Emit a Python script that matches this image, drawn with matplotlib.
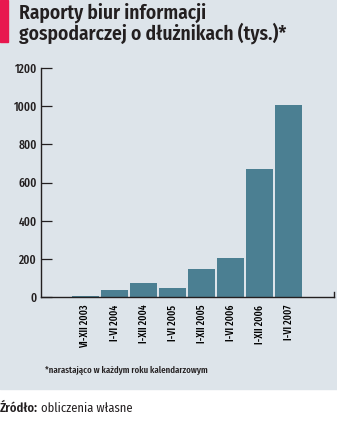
import matplotlib.pyplot as plt
from matplotlib.patches import Rectangle

# Reports of business information bureaus about debtors (thousands)
periods = ['VI-XII 2003', 'I-VI 2004', 'I-XII 2004', 'I-VI 2005',
           'I-XII 2005', 'I-VI 2006', 'I-XII 2006', 'I-VI 2007']
reports = [7, 38, 75, 49, 148, 206, 672, 1006]
yticks = [0, 200, 400, 600, 800, 1000, 1200]

bg = '#dde4ea'
bar_color = '#4b7f92'
ink = '#231f20'
title_font = ['Fira Sans Condensed', 'DejaVu Sans']
narrow = ['Fira Sans Extra Condensed', 'DejaVu Sans']
source_font = ['Fira Sans Condensed', 'DejaVu Sans']

fig = plt.figure(figsize=(3.37, 4.26), dpi=100)
fig.patch.set_facecolor('white')

# grey panel behind the chart, red marker at the title
fig.patches.append(Rectangle((0, 1 - 389 / 426), 1, 389 / 426,
                             transform=fig.transFigure, color=bg, zorder=-2))
fig.patches.append(Rectangle((0, 1 - 42 / 426), 8 / 337, 42 / 426,
                             transform=fig.transFigure, color='#e8174f', zorder=-1))

fig.text(19 / 337, 1 - 3 / 426, 'Raporty biur informacji\ngospodarczej o dłużnikach (tys.)*',
         ha='left', va='top', fontsize=14, fontweight=600, family=title_font,
         color=ink, linespacing=0.95)

ax = fig.add_axes([41 / 337, 1 - 297 / 426, 293 / 337, 229 / 426])
ax.set_facecolor(bg)
ax.bar(range(len(reports)), reports, width=0.93, color=bar_color, zorder=2)
ax.set_xlim(-1.53, 8.57)
ax.set_ylim(0, 1200)
ax.set_yticks(yticks)
ax.set_yticklabels([str(t) for t in yticks], family=narrow, fontsize=9, fontweight=500)
ax.set_xticks(range(len(periods)))
ax.set_xticklabels(periods, rotation=90, family=narrow, fontsize=7.6, fontweight=500, va='top')
ax.tick_params(axis='x', length=0, pad=5.5)
ax.tick_params(axis='y', direction='in', length=8, width=0.9, pad=3, colors=ink)

for side in ['top', 'right']:
    ax.spines[side].set_visible(False)
for side in ['left', 'bottom']:
    ax.spines[side].set_linewidth(1.0)
    ax.spines[side].set_color(ink)
ax.plot([1, 1], [0, 0.022], transform=ax.transAxes, color=ink, lw=1.0, clip_on=False)

fig.text(45 / 337, 1 - 370 / 426, '*narastająco w każdym roku kalendarzowym',
         ha='left', va='center', fontsize=6.9, fontweight=500, family=narrow, color=ink)

src = fig.text(0, 1 - 408 / 426, 'Źródło:', ha='left', va='center', fontsize=9,
               fontweight=600, family=source_font, color=ink)
fig.canvas.draw()
x_end = src.get_window_extent().x1 / fig.bbox.width
fig.text(x_end + 3 / 337, 1 - 408 / 426, 'obliczenia własne', ha='left', va='center',
         fontsize=9, family=source_font, color=ink)

fig.savefig('out.png', dpi=100)
